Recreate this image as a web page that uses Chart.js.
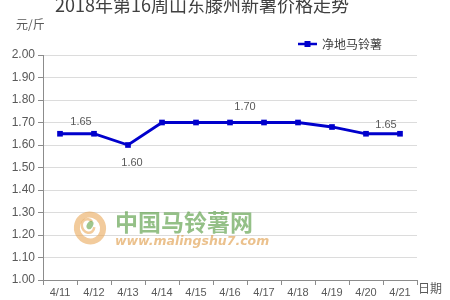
<!DOCTYPE html>
<html><head><meta charset="utf-8">
<script src="https://cdn.jsdelivr.net/npm/chart.js@4/dist/chart.umd.min.js"></script>
<style>html,body{margin:0;padding:0;background:#fff}canvas{display:block}</style>
</head><body>
<canvas id="c" width="450" height="300"></canvas>
<script>
const categories = ['4/11','4/12','4/13','4/14','4/15','4/16','4/17','4/18','4/19','4/20','4/21'];
const prices = [1.65, 1.65, 1.60, 1.70, 1.70, 1.70, 1.70, 1.70, 1.68, 1.65, 1.65];
const seriesName = '净地马铃薯';
const titleText = '2018年第16周山东滕州新薯价格走势';
const yUnit = '元/斤';
const xUnit = '日期';
const labelledPoints = [0, 2, 5, 9];

const labelOffsets = {0:[21,-12], 2:[4,18], 5:[15,-16], 9:[20,-9]};
const FONT = '"Microsoft YaHei","Noto Sans CJK SC","Liberation Sans",sans-serif';

const deco = {
  id: 'deco',
  beforeDatasetsDraw(chart) {
    const ctx = chart.ctx;
    ctx.save();
    // watermark logo
    ctx.globalAlpha = 0.6;
    ctx.strokeStyle = '#e9a85a';
    ctx.lineWidth = 6;
    ctx.beginPath(); ctx.ellipse(90, 228, 13, 13.5, -0.5, 0, Math.PI * 2); ctx.stroke();
    ctx.lineWidth = 2.5;
    ctx.beginPath(); ctx.ellipse(88, 226, 6, 7, -0.5, 0.6, Math.PI * 1.9); ctx.stroke();
    ctx.fillStyle = '#5fa043';
    ctx.beginPath(); ctx.ellipse(90, 225, 3, 4.5, 0.5, 0, Math.PI*2); ctx.fill();
    ctx.globalAlpha = 0.65;
    ctx.fillStyle = '#5a9e47';
    ctx.font = 'bold 23px ' + FONT;
    ctx.textBaseline = 'middle';
    ctx.textAlign = 'left';
    ctx.fillText('中国马铃薯网', 115, 222);
    ctx.fillStyle = '#e0a050';
    ctx.font = 'italic bold 12.5px "DejaVu Sans",sans-serif';
    ctx.fillText('www.malingshu7.com', 115, 242);
    ctx.restore();
  },
  afterDatasetsDraw(chart) {
    const ctx = chart.ctx;
    const meta = chart.getDatasetMeta(0);
    ctx.save();
    ctx.textBaseline = 'middle';
    // title
    ctx.fillStyle = '#404040';
    ctx.textAlign = 'center';
    ctx.font = '18px ' + FONT;
    ctx.fillText(titleText, 202, 5);
    // axis units
    ctx.font = '12px ' + FONT;
    ctx.fillStyle = '#595959';
    ctx.textAlign = 'left';
    ctx.fillText(yUnit, 16, 24);
    ctx.fillText(xUnit, 418, 288);
    // legend
    ctx.strokeStyle = '#0000cc';
    ctx.lineWidth = 2.5;
    ctx.beginPath(); ctx.moveTo(298, 44); ctx.lineTo(317, 44); ctx.stroke();
    ctx.fillStyle = '#0000cc';
    ctx.fillRect(304.5, 41, 6, 6);
    ctx.fillStyle = '#404040';
    ctx.font = '12px ' + FONT;
    ctx.fillText(seriesName, 322, 44);
    // data labels
    ctx.fillStyle = '#595959';
    ctx.font = '11px "Liberation Sans",sans-serif';
    ctx.textAlign = 'center';
    labelledPoints.forEach(i => {
      const p = meta.data[i];
      const o = labelOffsets[i];
      ctx.fillText(prices[i].toFixed(2), p.x + o[0], p.y + o[1]);
    });
    ctx.restore();
  }
};

new Chart(document.getElementById('c'), {
  type: 'line',
  data: {
    labels: categories,
    datasets: [{
      label: seriesName,
      data: prices,
      borderColor: '#0000cc',
      backgroundColor: '#0000cc',
      borderWidth: 2.8,
      pointStyle: 'rect',
      pointRadius: 4,
      pointBorderWidth: 0,
      tension: 0
    }]
  },
  options: {
    responsive: false,
    animation: false,
    layout: { padding: { left: 0, top: 55, right: 33, bottom: 0 } },
    plugins: { legend: { display: false }, tooltip: { enabled: false }, title: { display: false } },
    scales: {
      x: {
        offset: true,
        afterFit: s => { s.height = 20; },
        grid: { display: true, offset: true, drawOnChartArea: false, tickLength: 5, color: '#8c8c8c' },
        border: { color: '#8c8c8c', width: 1 },
        ticks: { color: '#595959', font: { size: 11, family: '"Liberation Sans",sans-serif' }, padding: 1, maxRotation: 0, autoSkip: false }
      },
      y: {
        min: 1, max: 2,
        afterFit: s => { s.width = 43; },
        ticks: { stepSize: 0.1, callback: v => v.toFixed(2), color: '#595959', font: { size: 12, family: '"Liberation Sans",sans-serif' }, padding: 3 },
        grid: { color: '#dcdcdc', tickColor: '#8c8c8c', tickLength: 5 },
        border: { color: '#8c8c8c', width: 1 }
      }
    }
  },
  plugins: [deco]
});
</script>
</body></html>
